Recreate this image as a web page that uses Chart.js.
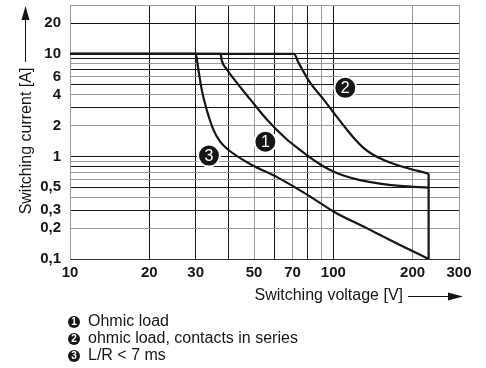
<!DOCTYPE html>
<html>
<head>
<meta charset="utf-8">
<script src="https://cdn.jsdelivr.net/npm/chart.js@4"></script>
<style>
html,body{margin:0;padding:0;background:#fff;}
#wrap{width:486px;height:368px;position:relative;}
</style>
</head>
<body>
<div id="wrap"><canvas id="c" width="486" height="368"></canvas></div>
<script>
// ---- data ----
const xGridValues = [10, 20, 30, 40, 50, 60, 70, 80, 90, 100, 200, 300];
const xTickLabels = {10: '10', 20: '20', 30: '30', 50: '50', 70: '70', 100: '100', 200: '200', 300: '300'};
const yGridValues = [0.1, 0.2, 0.3, 0.4, 0.5, 0.6, 0.7, 0.8, 0.9, 1, 2, 3, 4, 5, 6, 7, 8, 9, 10, 20, 30];
const yTickLabels = {0.1: '0,1', 0.2: '0,2', 0.3: '0,3', 0.5: '0,5', 1: '1', 2: '2', 4: '4', 6: '6', 10: '10', 20: '20'};

// curve 1: ohmic load
const curve1V = [10, 37.3, 37.7, 39.3, 42.9, 48.3, 55.8, 66.5, 74.7, 81.5, 90.5, 100, 110.7, 126.2, 150.3, 179, 230];
const curve1I = [10, 10, 8.6, 7.13, 5.28, 3.62, 2.31, 1.47, 1.158, 0.978, 0.816, 0.713, 0.644, 0.588, 0.543, 0.517, 0.497];
// curve 2: ohmic load, contacts in series
const curve2V = [10, 70.9, 73.6, 81.5, 91.6, 100, 112.3, 120.8, 129.5, 140.1, 157, 179, 230];
const curve2I = [10, 10, 8.29, 5.28, 3.62, 2.70, 1.84, 1.469, 1.225, 1.058, 0.914, 0.807, 0.681];
// curve 3: L/R < 7 ms
const curve3V = [10, 30, 30.7, 31.6, 33.0, 35.0, 37.1, 40.1, 48.7, 61.6, 81.5, 100, 133.8, 179, 230];
const curve3I = [10, 10, 7.13, 4.54, 2.89, 1.84, 1.40, 1.15, 0.835, 0.622, 0.408, 0.291, 0.200, 0.137, 0.1];
// vertical limit at max voltage
const limitV = [230, 230];
const limitI = [0.681, 0.1];

// curve number markers
const markerV = [55.2, 111, 33.7];
const markerI = [1.39, 4.67, 1.02];
const markerLabels = ['1', '2', '3'];

// legend
const legendItems = ['Ohmic load', 'ohmic load, contacts in series', 'L/R < 7 ms'];
const axisTitleX = 'Switching voltage [V]';
const axisTitleY = 'Switching current [A]';

const darkX = [20, 30, 40, 60, 80, 100];
const darkY = [20, 10, 9, 7, 5, 3, 1, 0.8, 0.5, 0.3];

const FONT = '"Liberation Sans", Arial, Helvetica, sans-serif';
const INK = '#161616';
const GREY = '#9a9a9a';

function pts(vs, is) { return vs.map((v, i) => ({x: v, y: is[i]})); }
function near(a, list) { return list.some(v => Math.abs(v - a) / v < 1e-6); }
function lookup(map, v) {
  for (const k in map) { if (Math.abs(parseFloat(k) - v) / v < 1e-6) return map[k]; }
  return '';
}

const curveStyle = {
  borderColor: INK, borderWidth: 2.2, pointRadius: 0, fill: false,
  cubicInterpolationMode: 'monotone', order: 2
};

const overlay = {
  id: 'overlay',
  afterDatasetsDraw(chart) {
    const ctx = chart.ctx;
    const meta = chart.getDatasetMeta(0);
    ctx.save();
    ctx.fillStyle = '#fff';
    ctx.font = '16px ' + FONT;
    ctx.textAlign = 'center';
    ctx.textBaseline = 'middle';
    meta.data.forEach((p, i) => { ctx.fillText(markerLabels[i], p.x, p.y + 1); });
    ctx.restore();
  },
  afterDraw(chart) {
    const ctx = chart.ctx;
    ctx.save();
    ctx.fillStyle = INK;
    ctx.strokeStyle = INK;
    ctx.lineWidth = 1;
    // y axis title + arrow
    ctx.save();
    ctx.translate(27, 141);
    ctx.rotate(-Math.PI / 2);
    ctx.font = '16px ' + FONT;
    ctx.textAlign = 'center';
    ctx.textBaseline = 'middle';
    ctx.fillText(axisTitleY, 0, 0);
    ctx.restore();
    ctx.beginPath(); ctx.moveTo(25.5, 62); ctx.lineTo(25.5, 18); ctx.stroke();
    ctx.beginPath(); ctx.moveTo(25.5, 6); ctx.lineTo(21.5, 20); ctx.lineTo(29.5, 20); ctx.closePath(); ctx.fill();
    // x axis title + arrow
    ctx.font = '16px ' + FONT;
    ctx.textAlign = 'right';
    ctx.textBaseline = 'middle';
    ctx.fillText(axisTitleX, 403, 296);
    ctx.beginPath(); ctx.moveTo(408, 296.5); ctx.lineTo(450, 296.5); ctx.stroke();
    ctx.beginPath(); ctx.moveTo(463, 296.5); ctx.lineTo(448, 292.5); ctx.lineTo(448, 300.5); ctx.closePath(); ctx.fill();
    // legend
    legendItems.forEach((t, i) => {
      const y = 322 + i * 17;
      ctx.fillStyle = INK;
      ctx.beginPath(); ctx.arc(74, y, 6, 0, Math.PI * 2); ctx.fill();
      ctx.fillStyle = '#fff';
      ctx.font = 'bold 10px ' + FONT;
      ctx.textAlign = 'center';
      ctx.fillText(markerLabels[i], 74, y + 0.5);
      ctx.fillStyle = INK;
      ctx.font = '16px ' + FONT;
      ctx.textAlign = 'left';
      ctx.fillText(t, 88, y);
    });
    ctx.restore();
  }
};

new Chart(document.getElementById('c'), {
  type: 'line',
  data: {
    datasets: [
      {
        data: pts(markerV, markerI), showLine: false, pointRadius: 11, pointHoverRadius: 11,
        pointBackgroundColor: INK, pointBorderColor: '#fff', pointBorderWidth: 2, order: 0
      },
      Object.assign({data: pts(curve1V, curve1I)}, curveStyle),
      Object.assign({data: pts(curve2V, curve2I)}, curveStyle),
      Object.assign({data: pts(curve3V, curve3I)}, curveStyle),
      {data: pts(limitV, limitI), borderColor: INK, borderWidth: 2.2, pointRadius: 0, tension: 0, order: 2}
    ]
  },
  options: {
    responsive: false,
    animation: false,
    events: [],
    layout: {autoPadding: false, padding: {left: 0, right: 27, top: 5, bottom: 0}},
    plugins: {legend: {display: false}, tooltip: {enabled: false}, title: {display: false}},
    scales: {
      x: {
        type: 'logarithmic', min: 10, max: 300,
        afterBuildTicks: s => { s.ticks = xGridValues.map(v => ({value: v})); },
        afterFit: s => { s.height = 109; s.paddingLeft = 0; s.paddingRight = 0; },
        ticks: {
          autoSkip: false, maxRotation: 0, padding: 5, color: INK,
          font: {family: FONT, size: 15, weight: 'bold'},
          callback: v => lookup(xTickLabels, v)
        },
        grid: {drawTicks: false, lineWidth: 1, color: c => near(c.tick.value, darkX) ? INK : GREY},
        border: {color: '#333', width: 1}
      },
      y: {
        type: 'logarithmic', min: 0.1, max: 30,
        afterBuildTicks: s => { s.ticks = yGridValues.map(v => ({value: v})); },
        afterFit: s => { s.width = 70; s.paddingTop = 0; s.paddingBottom = 0; },
        ticks: {
          autoSkip: false, padding: 9, color: INK,
          font: {family: FONT, size: 15, weight: 'bold'},
          callback: v => lookup(yTickLabels, v)
        },
        grid: {drawTicks: false, lineWidth: 1, color: c => near(c.tick.value, darkY) ? INK : GREY},
        border: {color: GREY, width: 1}
      }
    }
  },
  plugins: [overlay]
});
</script>
</body>
</html>
